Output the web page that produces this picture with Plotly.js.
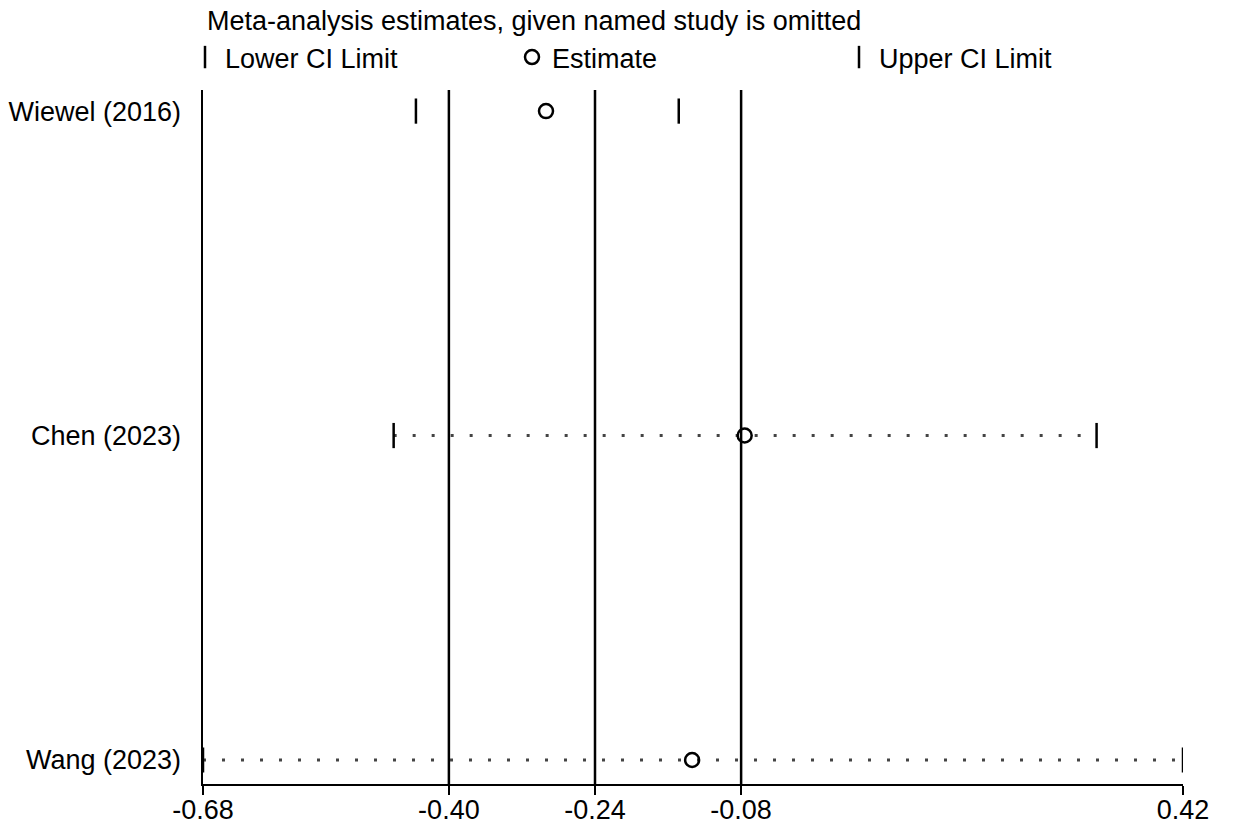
<!DOCTYPE html>
<html>
<head>
<meta charset="utf-8">
<script src="https://cdn.plot.ly/plotly-3.0.1.min.js"></script>
<style>html,body{margin:0;padding:0;background:#fff;}#chart{width:1233px;height:828px;}</style>
</head>
<body>
<div id="chart"></div>
<script>
// ---- data ----
const studies = ['Wiewel (2016)', 'Chen (2023)', 'Wang (2023)'];
const estimate = [-0.295, -0.072, -0.131];
const lowerCI = [-0.441, -0.466, -0.68];
const upperCI = [-0.146, 0.323, 0.42];
const showDots = [false, true, true];
// overall estimate and its confidence limits (vertical reference lines)
const overallLines = [-0.404, -0.240, -0.076];
// x axis ticks
const xTickVals = [-0.68, -0.404, -0.240, -0.076, 0.42];
const xTickText = ['-0.68', '-0.40', '-0.24', '-0.08', '0.42'];
const xRange = [-0.68, 0.42];

const rowPos = studies.map((s, i) => i + 1);
const FONT = 'Liberation Sans, Arial, sans-serif';

const traces = [];
// dotted CI lines
studies.forEach((s, i) => {
  if (!showDots[i]) return;
  traces.push({
    x: [lowerCI[i], upperCI[i]], y: [rowPos[i], rowPos[i]],
    mode: 'lines', type: 'scatter', showlegend: false, hoverinfo: 'skip',
    line: {color: '#444', width: 3, dash: '3px,16px'}
  });
});
traces.push({
  name: 'Lower CI Limit', x: lowerCI, y: rowPos, type: 'scatter', mode: 'markers',
  marker: {symbol: 'line-ns', size: 18, color: '#000', line: {color: '#000', width: 2.5}}
});
traces.push({
  name: 'Estimate', x: estimate, y: rowPos, type: 'scatter', mode: 'markers',
  marker: {symbol: 'circle-open', size: 14, color: '#000', line: {color: '#000', width: 2.5}}
});
traces.push({
  name: 'Upper CI Limit', x: upperCI, y: rowPos, type: 'scatter', mode: 'markers',
  marker: {symbol: 'line-ns', size: 18, color: '#000', line: {color: '#000', width: 2.5}}
});

const shapes = overallLines.map(v => ({
  type: 'line', xref: 'x', yref: 'paper', x0: v, x1: v, y0: 0, y1: 1,
  line: {color: '#000', width: 2.5}, layer: 'below'
}));

const layout = {
  width: 1233, height: 828,
  margin: {l: 203, r: 50, t: 90, b: 44, autoexpand: false},
  paper_bgcolor: '#fff', plot_bgcolor: '#fff',
  font: {family: FONT, size: 27, color: '#000'},
  title: {
    text: 'Meta-analysis estimates, given named study is omitted',
    font: {family: FONT, size: 27, color: '#000'},
    xref: 'paper', x: 0.004, xanchor: 'left',
    yref: 'container', y: 1 - 21 / 828, yanchor: 'middle'
  },
  showlegend: true,
  legend: {
    orientation: 'h', xref: 'container', yref: 'container',
    x: 185 / 1233, xanchor: 'left', y: 1 - 33 / 828, yanchor: 'top',
    font: {family: FONT, size: 27, color: '#000'},
    entrywidthmode: 'pixels', entrywidth: 282,
    itemwidth: 30, bgcolor: 'rgba(0,0,0,0)', borderwidth: 0
  },
  xaxis: {
    range: xRange, tickvals: xTickVals, ticktext: xTickText,
    showgrid: false, zeroline: false, showline: true, linecolor: '#000', linewidth: 2,
    ticks: 'outside', ticklen: 9, tickwidth: 2, tickcolor: '#000', ticklabelstandoff: -8,
    tickfont: {family: FONT, size: 27, color: '#000'}, fixedrange: true
  },
  yaxis: {
    range: [3.074, 0.935], tickvals: rowPos, ticktext: studies,
    showgrid: false, zeroline: false, showline: true, linecolor: '#000', linewidth: 2.5,
    ticks: '', ticklabelstandoff: 14,
    tickfont: {family: FONT, size: 27, color: '#000'}, fixedrange: true
  },
  shapes: shapes
};

Plotly.newPlot('chart', traces, layout, {displayModeBar: false, staticPlot: true});
</script>
</body>
</html>
